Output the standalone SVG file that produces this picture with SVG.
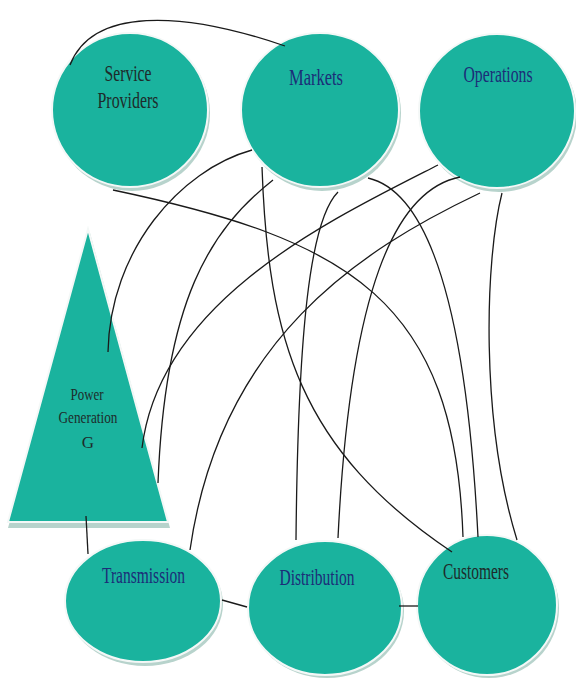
<svg xmlns="http://www.w3.org/2000/svg" width="576" height="678" viewBox="0 0 576 678">
<style>
.sh{fill:#b7d3cc}
.nd{fill:#1ab39e;stroke:#f4f8f7;stroke-width:2}
.t{font-family:"Liberation Serif","DejaVu Serif",serif;font-size:23px;text-anchor:middle}
.nv{fill:#1c2d78}
.dk{fill:#1e2b2b}
.sm{font-size:17px}
#connectors path{fill:none;stroke:#1a1a1a;stroke-width:1.3}
</style>
<rect width="576" height="678" fill="#ffffff"/>
<g id="service-providers">
<ellipse class="sh" cx="132" cy="113" rx="78" ry="78"/>
<ellipse class="nd" cx="130" cy="110" rx="78" ry="77"/>
<text class="t dk" x="128" y="81" textLength="47" lengthAdjust="spacingAndGlyphs">Service</text>
<text class="t dk" x="128" y="108" textLength="61" lengthAdjust="spacingAndGlyphs">Providers</text>
</g>
<g id="markets">
<ellipse class="sh" cx="322" cy="113" rx="79" ry="78"/>
<ellipse class="nd" cx="320" cy="110" rx="79" ry="77"/>
<text class="t nv" x="316" y="85" textLength="54" lengthAdjust="spacingAndGlyphs">Markets</text>
</g>
<g id="operations">
<ellipse class="sh" cx="499" cy="114" rx="78" ry="78"/>
<ellipse class="nd" cx="497" cy="111" rx="78" ry="77"/>
<text class="t nv" x="498" y="82" textLength="69" lengthAdjust="spacingAndGlyphs">Operations</text>
</g>
<g id="power-generation">
<polygon class="sh" points="90,233 170,528 8,528"/>
<polygon class="nd" points="88,229 168,522 8,522"/>
<text class="t dk sm" x="87" y="400" textLength="33" lengthAdjust="spacingAndGlyphs">Power</text>
<text class="t dk sm" x="88" y="423" textLength="59" lengthAdjust="spacingAndGlyphs">Generation</text>
<text class="t dk sm" x="88" y="448">G</text>
</g>
<g id="transmission">
<ellipse class="sh" cx="145" cy="604" rx="78" ry="62"/>
<ellipse class="nd" cx="143" cy="601" rx="78" ry="61"/>
<text class="t nv" x="143.5" y="583" textLength="83" lengthAdjust="spacingAndGlyphs">Transmission</text>
</g>
<g id="distribution">
<ellipse class="sh" cx="327" cy="611" rx="77" ry="67"/>
<ellipse class="nd" cx="325" cy="608" rx="77" ry="67"/>
<text class="t nv" x="317" y="585" textLength="75" lengthAdjust="spacingAndGlyphs">Distribution</text>
</g>
<g id="customers">
<ellipse class="sh" cx="489" cy="608" rx="70" ry="70"/>
<ellipse class="nd" cx="487" cy="605" rx="70" ry="70"/>
<text class="t dk" x="476" y="579" textLength="66" lengthAdjust="spacingAndGlyphs">Customers</text>
</g>
<g id="connectors">
<path d="M70,65 C92,8 180,10 285,46"/>
<path d="M113,190 C350,240 455,300 463,537"/>
<path d="M252,150 C180,170 110,250 108,352"/>
<path d="M273,180 C210,230 165,300 158,483"/>
<path d="M262,167 C268,340 300,450 452,552"/>
<path d="M338,192 C310,220 298,330 296,540"/>
<path d="M368,178 C420,190 465,280 478,537"/>
<path d="M438,165 C330,220 160,300 142,448"/>
<path d="M460,177 C395,190 350,290 338,538"/>
<path d="M480,193 C360,250 220,340 190,550"/>
<path d="M502,193 C485,260 480,420 517,540"/>
<path d="M86,516 L88,554"/>
<path d="M222,600 L247,607"/>
<path d="M399,606 L418,606"/>
</g>
</svg>
